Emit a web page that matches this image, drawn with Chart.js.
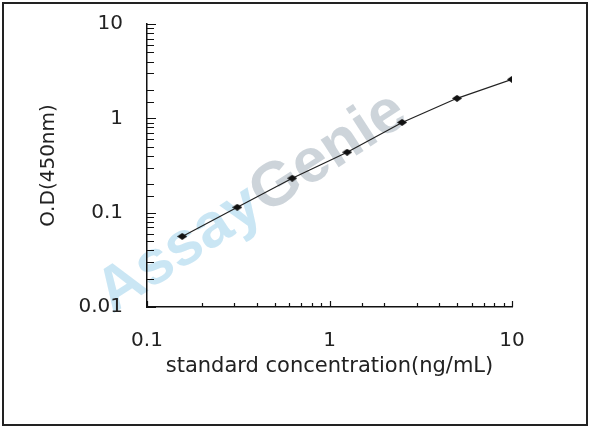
<!DOCTYPE html>
<html>
<head>
<meta charset="utf-8">
<script src="https://cdn.jsdelivr.net/npm/chart.js@4/dist/chart.umd.min.js"></script>
<style>
  html, body { margin:0; padding:0; background:#fff; }
  #wrap { position:relative; width:590px; height:428px; }
</style>
</head>
<body>
<div id="wrap"><canvas id="stdCurve"></canvas></div>
<script>
// standard curve: concentration (ng/mL) vs O.D at 450nm
const concentrations = [0.156, 0.3125, 0.625, 1.25, 2.5, 5, 10];
const odValues = [0.056, 0.114, 0.232, 0.437, 0.905, 1.63, 2.59];
const xTickLabels = ["0.1", "1", "10"];
const yTickLabels = ["0.01", "0.1", "1", "10"];

const isDecade = v => Math.abs(Math.log10(v) - Math.round(Math.log10(v))) < 1e-6;
const tickText = (v, list) => {
  if (!isDecade(v)) return "";
  return list.find(t => Math.abs(parseFloat(t) - v) < 1e-9) || "";
};

// wide diamond marker like the original plot
const marker = document.createElement("canvas");
marker.width = 10; marker.height = 7;
(() => {
  const c = marker.getContext("2d");
  c.fillStyle = "#111";
  c.beginPath();
  c.moveTo(0, 3.5); c.lineTo(5, 0); c.lineTo(10, 3.5); c.lineTo(5, 7);
  c.closePath(); c.fill();
})();

// frame, watermark and inward tick marks
const decor = {
  id: "decor",
  beforeDraw(chart){
    const ctx = chart.ctx;
    ctx.save();
    ctx.strokeStyle = "#222";
    ctx.lineWidth = 2;
    ctx.strokeRect(3, 3, chart.width - 6, chart.height - 6);

    ctx.translate(252, 203);
    ctx.rotate(-33 * Math.PI / 180);
    ctx.font = "bold 62px 'Liberation Sans', Arial, sans-serif";
    ctx.textBaseline = "middle";
    const w1 = ctx.measureText("Assay").width;
    const w2 = ctx.measureText("Genie").width;
    const x = -(w1 + w2) / 2;
    ctx.globalAlpha = 0.75;
    ctx.fillStyle = "#b8def0";
    ctx.fillText("Assay", x, 0);
    ctx.fillStyle = "#bcc6ce";
    ctx.fillText("Genie", x + w1, 0);
    ctx.restore();
  },
  afterDraw(chart){
    const ctx = chart.ctx;
    const xs = chart.scales.x, ys = chart.scales.y;
    ctx.save();
    ctx.strokeStyle = "#111";
    ctx.lineWidth = 1.2;
    ctx.beginPath();
    xs.ticks.forEach(t => {
      const px = Math.round(xs.getPixelForValue(t.value)) + 0.5;
      const len = isDecade(t.value) ? 6 : 4;
      ctx.moveTo(px, ys.bottom); ctx.lineTo(px, ys.bottom - len);
    });
    ys.ticks.forEach(t => {
      const py = Math.round(ys.getPixelForValue(t.value)) + 0.5;
      const len = isDecade(t.value) ? 9 : 7;
      ctx.moveTo(xs.left, py); ctx.lineTo(xs.left + len, py);
    });
    ctx.stroke();
    ctx.restore();
  }
};

const font = { family: "'DejaVu Sans', sans-serif", size: 20 };

new Chart(document.getElementById("stdCurve"), {
  type: "line",
  data: {
    datasets: [{
      data: concentrations.map((c, i) => ({ x: c, y: odValues[i] })),
      borderColor: "#222",
      borderWidth: 1.2,
      pointStyle: marker,
      pointRadius: 4,
      tension: 0,
      fill: false
    }]
  },
  options: {
    responsive: true,
    maintainAspectRatio: false,
    animation: false,
    layout: { padding: { left: 0, top: 24, right: 78, bottom: 0 } },
    plugins: { legend: { display: false }, tooltip: { enabled: false } },
    scales: {
      x: {
        type: "logarithmic",
        min: 0.1, max: 10,
        grid: { display: false, drawTicks: false },
        border: { display: true, color: "#111", width: 1.5 },
        ticks: {
          autoSkip: false, maxRotation: 0, padding: 22, color: "#222", font,
          callback: v => tickText(v, xTickLabels)
        },
        title: {
          display: true, text: "standard concentration(ng/mL)", color: "#222",
          font: { family: "'DejaVu Sans', sans-serif", size: 21 },
          padding: { top: 0, bottom: 49 }
        },
        afterFit: s => { s.height = 121; s.paddingLeft = 0; s.paddingRight = 0; }
      },
      y: {
        type: "logarithmic",
        min: 0.01, max: 10,
        grid: { display: false, drawTicks: false },
        border: { display: true, color: "#111", width: 1.5 },
        ticks: {
          autoSkip: false, padding: 24, color: "#222", font,
          callback: v => tickText(v, yTickLabels)
        },
        title: {
          display: true, text: "O.D(450nm)", color: "#222",
          font: { family: "'DejaVu Sans', sans-serif", size: 20 },
          padding: { top: 37, bottom: 0 }
        },
        afterFit: s => { s.width = 147; s.paddingTop = 0; s.paddingBottom = 0; }
      }
    }
  },
  plugins: [decor]
});
</script>
</body>
</html>
